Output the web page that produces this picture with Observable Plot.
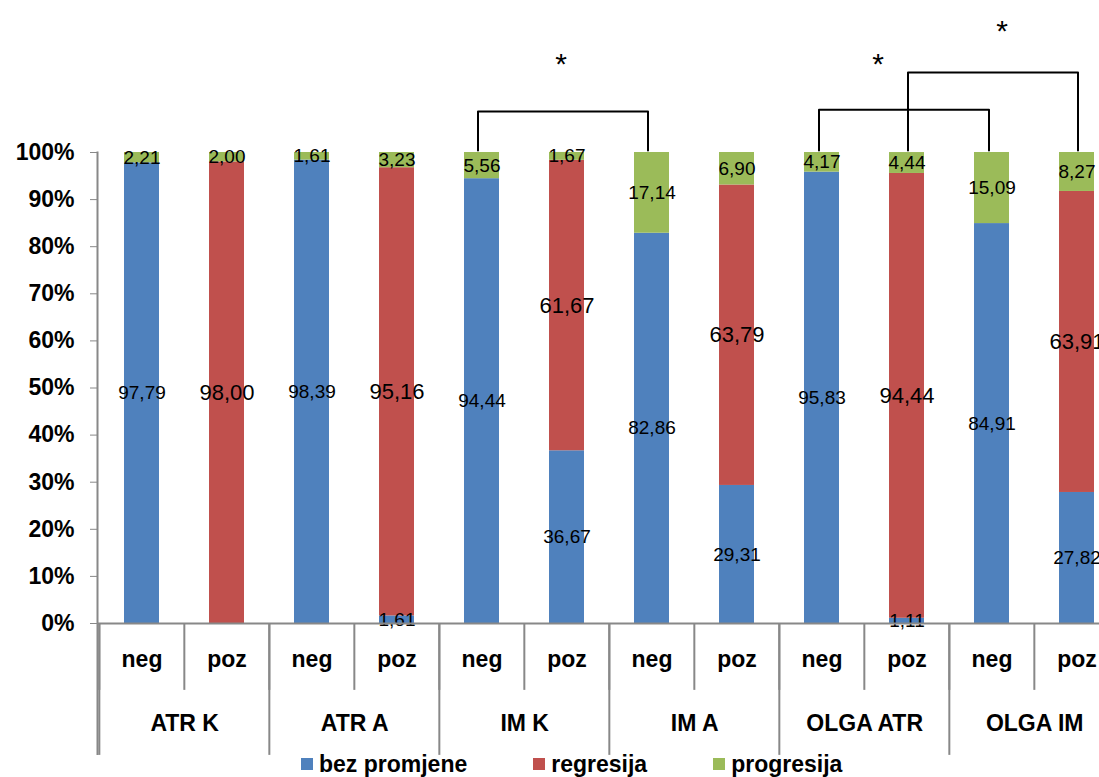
<!DOCTYPE html>
<html><head><meta charset="utf-8">
<script src="https://cdn.jsdelivr.net/npm/d3@7"></script>
<script src="https://cdn.jsdelivr.net/npm/@observablehq/plot@0.6"></script>
<style>
html,body{margin:0;padding:0;background:#fff;overflow:hidden;}
body{width:1099px;height:777px;font-family:"Liberation Sans",Arial,sans-serif;}
#legend{display:flex;align-items:center;height:22px;margin-top:-2px;padding-left:301px;font-size:23px;font-weight:bold;line-height:1;white-space:nowrap;}
.item{display:flex;align-items:center;margin-right:66px;}
.sw{width:12px;height:12px;margin-right:6px;}
</style></head><body><div id="chart"></div><div id="legend"></div>
<script>
// ---- data ----
const groups = ["ATR K", "ATR A", "IM K", "IM A", "OLGA ATR", "OLGA IM"];
const subgroups = ["neg", "poz"];
const seriesNames = ["bez promjene", "regresija", "progresija"];
const seriesColors = ["#4F81BD", "#C0504D", "#9BBB59"];
const bezPromjene = [97.79, 0, 98.39, 1.61, 94.44, 36.67, 82.86, 29.31, 95.83, 1.11, 84.91, 27.82];
const regresija   = [0, 98.00, 0, 95.16, 0, 61.67, 0, 63.79, 0, 94.44, 0, 63.91];
const progresija  = [2.21, 2.00, 1.61, 3.23, 5.56, 1.67, 17.14, 6.90, 4.17, 4.44, 15.09, 8.27];
const yTicks = [0, 10, 20, 30, 40, 50, 60, 70, 80, 90, 100];
// significance brackets (from, to, level in %)
const bracketFrom  = ["IM K|neg", "OLGA ATR|neg", "OLGA ATR|poz"];
const bracketTo    = ["IM A|neg", "OLGA IM|neg", "OLGA IM|poz"];
const bracketLevel = [108.7, 109.1, 117.0];
const bracketBase  = 100.4;
const starAt    = ["IM K|poz", "OLGA ATR|poz", "OLGA IM|neg"];
const starLevel = [118.8, 118.8, 125.8];

// ---- build tables ----
const keys = [];
groups.forEach(g => subgroups.forEach(s => keys.push(g + "|" + s)));
const seriesValues = [bezPromjene, regresija, progresija];
const rows = [];
keys.forEach((k, i) => seriesNames.forEach((s, j) => rows.push({key: k, series: s, value: seriesValues[j][i]})));
const bracketRows = bracketFrom.map((f, i) => [
  {key: f, y: bracketBase},
  {key: f, y: bracketLevel[i]},
  {key: bracketTo[i], y: bracketLevel[i]},
  {key: bracketTo[i], y: bracketBase}
]);
const negKeys = keys.filter(k => k.endsWith("|neg"));
const fmt = v => v.toFixed(2).replace(".", ",");

const xRange = [97, 1121];
const step = (xRange[1] - xRange[0]) / keys.length;
const gray = "#888888";
const bracketShift = [-4, -3, 1];
const starShift = [-6, -29, 10];

const chart = Plot.plot({
  width: 1099,
  height: 755,
  marginLeft: 97,
  marginRight: 0,
  marginTop: 152,
  marginBottom: 0,
  style: {fontFamily: "'Liberation Sans', Arial, sans-serif", fontSize: "23px", background: "white", color: "black"},
  x: {domain: keys, range: xRange, paddingInner: 0.59, paddingOuter: 0.295},
  y: {domain: [0, 100], range: [623, 152]},
  color: {domain: seriesNames, range: seriesColors},
  marks: [
    Plot.barY(rows, {x: "key", y: "value", fill: "series"}),
    Plot.text(rows, Plot.stackY({
      x: "key", y: "value", z: "series",
      text: d => d.value > 0 ? fmt(d.value) : "",
      fontSize: d => d.series === "regresija" ? 22 : 19,
      fill: "black"
    })),
    Plot.frame({anchor: "left", stroke: gray, strokeWidth: 2}),
    Plot.ruleY([0], {stroke: gray, strokeWidth: 2}),
    Plot.ruleX(keys, {x: d => d, y1: 0, y2: -14.2, dx: -step / 2, stroke: gray, strokeWidth: 2}),
    Plot.ruleX(negKeys, {x: d => d, y1: 0, y2: -28, dx: -step / 2, stroke: gray, strokeWidth: 2}),
    Plot.axisY({ticks: yTicks, tickFormat: d => d + "%", tickSize: 7, tickPadding: 16, stroke: gray, fill: "black", fontSize: 23, fontWeight: "bold"}),
    Plot.axisX({tickSize: 0, tickPadding: 27, dy: -132, tickFormat: d => d.split("|")[1], fontSize: 23, fontWeight: "bold", fill: "black", label: null}),
    Plot.text(negKeys, {x: d => d, text: d => d.split("|")[0], frameAnchor: "bottom", dy: -25, dx: step / 2, fontSize: 23, fontWeight: "bold", fill: "black"}),
    ...bracketRows.map((r, i) => Plot.line(r, {x: "key", y: "y", stroke: "black", strokeWidth: 2, dx: bracketShift[i]})),
    ...starAt.map((k, i) => Plot.text([k], {x: d => d, y: () => starLevel[i], text: () => "*", dx: starShift[i], fontSize: 30, fill: "black"}))
  ]
});
document.getElementById("chart").appendChild(chart);

const legend = document.getElementById("legend");
seriesNames.forEach((s, i) => {
  const item = document.createElement("div");
  item.className = "item";
  const sw = document.createElement("div");
  sw.className = "sw";
  sw.style.background = seriesColors[i];
  const t = document.createElement("span");
  t.textContent = s;
  item.appendChild(sw);
  item.appendChild(t);
  legend.appendChild(item);
});
</script></body></html>
